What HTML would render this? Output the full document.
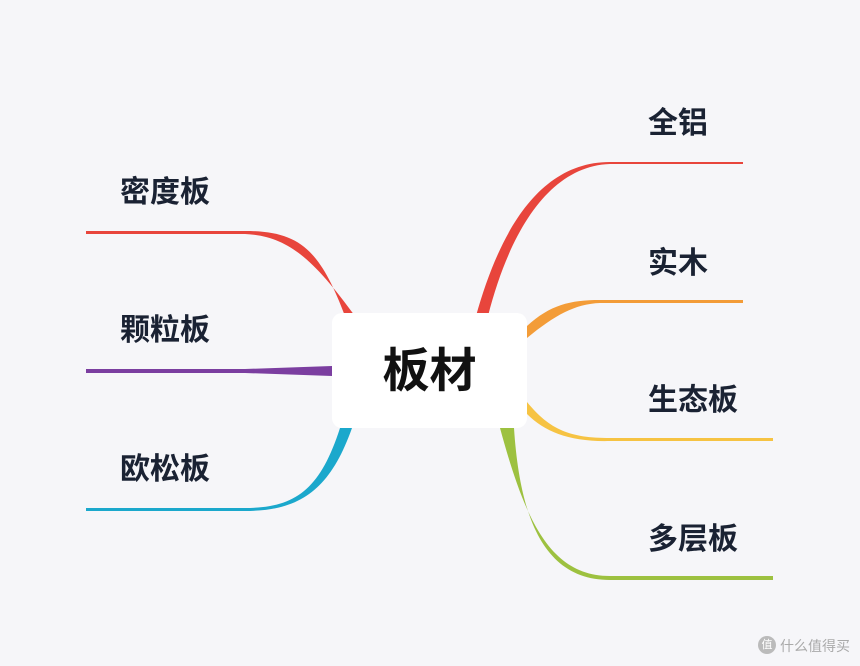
<!DOCTYPE html>
<html><head><meta charset="utf-8"><style>
html,body{margin:0;padding:0;background:#f6f6f9;}
body{width:860px;height:666px;position:relative;overflow:hidden;font-family:"Liberation Sans","Noto Sans CJK SC",sans-serif;}
.t{position:absolute;font-size:30px;font-weight:bold;color:#1a2233;white-space:nowrap;line-height:1;}
</style></head><body>
<svg width="860" height="666" style="position:absolute;left:0;top:0">
<path d="M476,316 C500,230 540,162 610,162 L743,162 L743,164 L610,164 C550,166 510,230 488,316 Z" fill="#e8453c"/>
<path d="M527,326 C550,305 570,300 600,300 L743,300 L743,303 L600,303 C575,304 555,315 527,338 Z" fill="#f39c38"/>
<path d="M527,402 C550,430 570,438 610,438 L773,438 L773,441 L610,441 C570,442 545,432 527,414 Z" fill="#f6c343"/>
<path d="M500,428 C525,520 550,576 610,576 L773,576 L773,580 L610,580 C545,580 520,520 514,428 Z" fill="#9dc140"/>
<path d="M345,316 C320,250 300,231 245,231 L86,231 L86,234 L245,234 C290,236 315,262 355,316 Z" fill="#e8453c"/>
<path d="M332,366 L245,369 L86,369 L86,373 L245,373 L332,376 Z" fill="#7b3ea0"/>
<path d="M340,428 C320,490 295,508 245,508 L86,508 L86,511 L245,511 C300,511 330,490 352,428 Z" fill="#1ba8cc"/>
</svg>
<div style="position:absolute;left:332px;top:313px;width:195px;height:115px;background:#fff;border-radius:10px;"></div>
<div class="t" style="left:332px;top:347px;width:195px;text-align:center;font-size:47px;color:#111;">板材</div>
<div class="t" style="left:648px;top:109px;">全铝</div>
<div class="t" style="left:648px;top:249px;">实木</div>
<div class="t" style="left:648px;top:386px;">生态板</div>
<div class="t" style="left:648px;top:525px;">多层板</div>
<div class="t" style="left:120px;top:178px;">密度板</div>
<div class="t" style="left:120px;top:316px;">颗粒板</div>
<div class="t" style="left:120px;top:455px;">欧松板</div>
<div style="position:absolute;left:758px;top:636px;width:18px;height:18px;border-radius:50%;background:#bbb;color:#fff;font-size:11px;text-align:center;line-height:18px;">值</div>
<div style="position:absolute;left:780px;top:636px;font-size:14px;color:#aaa;">什么值得买</div>
</body></html>
